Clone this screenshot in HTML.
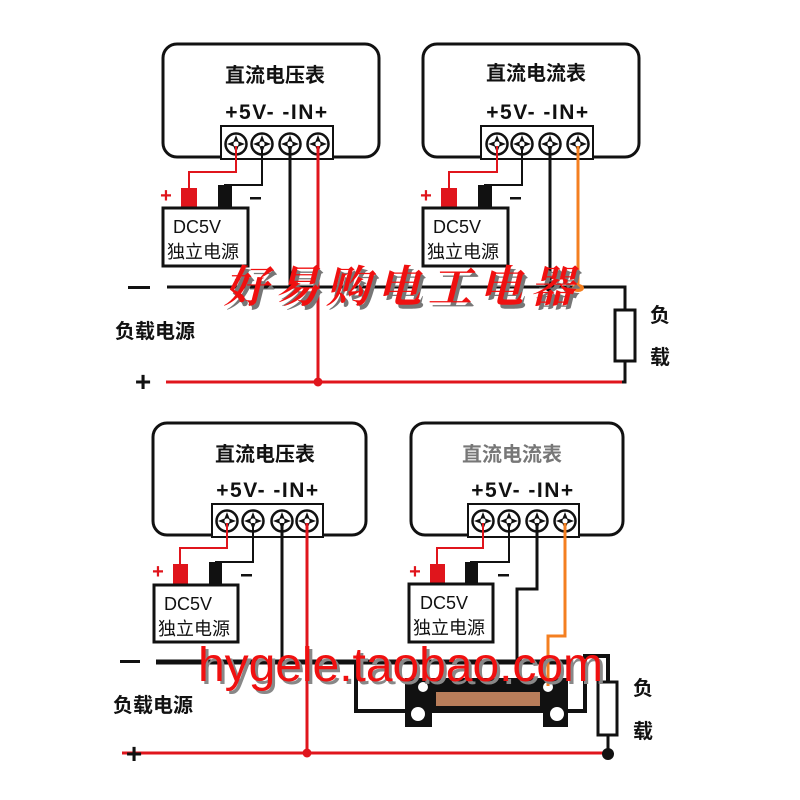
<!DOCTYPE html>
<html><head><meta charset="utf-8"><style>
html,body{margin:0;padding:0;background:#fff}
svg{display:block}
.t{font-family:"Liberation Sans","Noto Sans CJK SC",sans-serif;font-weight:bold;fill:#111}
.n{font-family:"Liberation Sans","Noto Sans CJK SC",sans-serif;fill:#111}
.lb{font-family:"Liberation Sans",sans-serif;font-weight:bold;fill:#111;font-size:21px;letter-spacing:1.5px}
</style></head><body>
<svg width="800" height="800" viewBox="0 0 800 800" xmlns="http://www.w3.org/2000/svg">
<defs>
<g id="sc">
<circle r="10.5" fill="#fff" stroke="#111" stroke-width="2.5"/>
<path d="M0,-9 L2.5,-2.5 L9,0 L2.5,2.5 L0,9 L-2.5,2.5 L-9,0 L-2.5,-2.5Z" fill="#111"/>
<circle r="2.6" fill="#fff"/>
</g>
</defs>

<!-- ============ TOP SECTION ============ -->
<rect x="163" y="44" width="216" height="113" rx="14" fill="#fff" stroke="#111" stroke-width="3"/>
<text class="t" x="275" y="82" font-size="20" text-anchor="middle">直流电压表</text>
<text class="lb" x="277" y="119" text-anchor="middle">+5V-  -IN+</text>
<rect x="221" y="126" width="112" height="33" fill="#fff" stroke="#111" stroke-width="2"/>
<use href="#sc" x="236" y="144"/><use href="#sc" x="262" y="144"/><use href="#sc" x="290" y="144"/><use href="#sc" x="318" y="144"/>
<polyline points="236,146 236,172 189,172 189,190" fill="none" stroke="#e0151c" stroke-width="2"/>
<polyline points="262,146 262,185 224,185" fill="none" stroke="#111" stroke-width="2"/>
<rect x="181" y="188" width="16" height="20" fill="#e0151c"/>
<rect x="218" y="185" width="14" height="23" fill="#111"/>
<text x="166" y="202" font-size="20" fill="#e0151c" font-family="Liberation Sans" font-weight="bold" text-anchor="middle">+</text>
<rect x="250" y="197" width="11" height="2.5" fill="#111"/>
<rect x="163" y="208" width="85" height="58" fill="#fff" stroke="#111" stroke-width="3"/>
<text class="n" x="173" y="233" font-size="18">DC5V</text>
<text class="n" x="167" y="258" font-size="18">独立电源</text>
<line x1="290" y1="146" x2="290" y2="287" stroke="#111" stroke-width="3"/>

<rect x="423" y="44" width="216" height="113" rx="14" fill="#fff" stroke="#111" stroke-width="3"/>
<text class="t" x="536" y="80" font-size="20" text-anchor="middle">直流电流表</text>
<text class="lb" x="538" y="119" text-anchor="middle">+5V-  -IN+</text>
<rect x="481" y="126" width="112" height="33" fill="#fff" stroke="#111" stroke-width="2"/>
<use href="#sc" x="497" y="144"/><use href="#sc" x="522" y="144"/><use href="#sc" x="550" y="144"/><use href="#sc" x="578" y="144"/>
<polyline points="497,146 497,172 449,172 449,190" fill="none" stroke="#e0151c" stroke-width="2"/>
<polyline points="522,146 522,185 484,185" fill="none" stroke="#111" stroke-width="2"/>
<rect x="441" y="188" width="16" height="20" fill="#e0151c"/>
<rect x="478" y="185" width="14" height="23" fill="#111"/>
<text x="426" y="202" font-size="20" fill="#e0151c" font-family="Liberation Sans" font-weight="bold" text-anchor="middle">+</text>
<rect x="510" y="197" width="11" height="2.5" fill="#111"/>
<rect x="423" y="208" width="85" height="58" fill="#fff" stroke="#111" stroke-width="3"/>
<text class="n" x="433" y="233" font-size="18">DC5V</text>
<text class="n" x="427" y="258" font-size="18">独立电源</text>
<line x1="550" y1="146" x2="550" y2="287" stroke="#111" stroke-width="3"/>

<polyline points="167,287 625,287 625,310" fill="none" stroke="#111" stroke-width="3"/>
<rect x="615" y="310" width="20" height="51" fill="#fff" stroke="#111" stroke-width="3"/>
<polyline points="625,361 625,382 166,382" fill="none" stroke="#111" stroke-width="3"/>
<line x1="166" y1="382" x2="622" y2="382" stroke="#e0151c" stroke-width="3"/>
<line x1="318" y1="146" x2="318" y2="382" stroke="#e0151c" stroke-width="3"/>
<circle cx="318" cy="382" r="4.5" fill="#e0151c"/>
<circle cx="550" cy="287" r="5" fill="#111"/>
<line x1="578" y1="146" x2="578" y2="287" stroke="#f47f20" stroke-width="3"/>
<ellipse cx="578" cy="288" rx="6" ry="4" fill="#f47f20"/>
<rect x="128" y="286" width="22" height="3" fill="#111"/>
<text class="t" x="115" y="338" font-size="20">负载电源</text>
<text class="t" x="143" y="391" font-size="28" text-anchor="middle">+</text>
<text class="t" x="660" y="322" font-size="20" text-anchor="middle">负</text>
<text class="t" x="660" y="364" font-size="20" text-anchor="middle">载</text>
<text x="227" y="306" font-size="44" font-weight="bold" font-style="italic" fill="#777" font-family="Noto Serif CJK SC,serif" letter-spacing="7">好易购电工电器</text>
<text x="224" y="302" font-size="44" font-weight="bold" font-style="italic" fill="#f01010" font-family="Noto Serif CJK SC,serif" letter-spacing="7">好易购电工电器</text>

<!-- ============ BOTTOM SECTION ============ -->
<rect x="153" y="423" width="213" height="112" rx="14" fill="#fff" stroke="#111" stroke-width="3"/>
<text class="t" x="265" y="461" font-size="20" text-anchor="middle">直流电压表</text>
<text class="lb" x="268" y="497" text-anchor="middle">+5V-  -IN+</text>
<rect x="212" y="504" width="111" height="33" fill="#fff" stroke="#111" stroke-width="2"/>
<use href="#sc" x="227" y="521"/><use href="#sc" x="253" y="521"/><use href="#sc" x="282" y="521"/><use href="#sc" x="307" y="521"/>
<polyline points="227,523 227,548 180,548 180,566" fill="none" stroke="#e0151c" stroke-width="2"/>
<polyline points="253,523 253,562 215,562" fill="none" stroke="#111" stroke-width="2"/>
<rect x="173" y="564" width="15" height="21" fill="#e0151c"/>
<rect x="209" y="562" width="13" height="23" fill="#111"/>
<text x="158" y="578" font-size="20" fill="#e0151c" font-family="Liberation Sans" font-weight="bold" text-anchor="middle">+</text>
<rect x="241" y="574" width="11" height="2.5" fill="#111"/>
<rect x="154" y="585" width="84" height="57" fill="#fff" stroke="#111" stroke-width="3"/>
<text class="n" x="164" y="610" font-size="18">DC5V</text>
<text class="n" x="158" y="635" font-size="18">独立电源</text>
<line x1="282" y1="523" x2="282" y2="662" stroke="#111" stroke-width="3"/>

<rect x="411" y="423" width="212" height="112" rx="14" fill="#fff" stroke="#111" stroke-width="3"/>
<text x="512" y="461" font-size="20" text-anchor="middle" font-weight="bold" fill="#777" font-family="Liberation Sans,Noto Sans CJK SC,sans-serif">直流电流表</text>
<text class="lb" x="523" y="497" text-anchor="middle">+5V-  -IN+</text>
<rect x="468" y="504" width="111" height="33" fill="#fff" stroke="#111" stroke-width="2"/>
<use href="#sc" x="483" y="521"/><use href="#sc" x="509" y="521"/><use href="#sc" x="537" y="521"/><use href="#sc" x="565" y="521"/>
<polyline points="483,523 483,548 437,548 437,566" fill="none" stroke="#e0151c" stroke-width="2"/>
<polyline points="509,523 509,562 470,562" fill="none" stroke="#111" stroke-width="2"/>
<rect x="430" y="564" width="15" height="21" fill="#e0151c"/>
<rect x="465" y="562" width="13" height="23" fill="#111"/>
<text x="415" y="578" font-size="20" fill="#e0151c" font-family="Liberation Sans" font-weight="bold" text-anchor="middle">+</text>
<rect x="498" y="574" width="11" height="2.5" fill="#111"/>
<rect x="409" y="584" width="84" height="58" fill="#fff" stroke="#111" stroke-width="3"/>
<text class="n" x="420" y="609" font-size="18">DC5V</text>
<text class="n" x="413" y="634" font-size="18">独立电源</text>
<polyline points="537,523 537,589 517,589 517,663" fill="none" stroke="#111" stroke-width="3"/>

<line x1="156" y1="662" x2="568" y2="662" stroke="#111" stroke-width="5"/>
<polyline points="356,662 356,711 406,711" fill="none" stroke="#111" stroke-width="4"/>
<rect x="405" y="678" width="163" height="49" fill="#111"/>
<rect x="436" y="692" width="104" height="14" fill="#b87d5a"/>
<rect x="432" y="713" width="111" height="14" fill="#fff"/>
<circle cx="423" cy="687" r="5" fill="#fff"/>
<circle cx="548" cy="687" r="5" fill="#fff"/>
<circle cx="418" cy="714" r="7" fill="#fff"/>
<circle cx="557" cy="714" r="7" fill="#fff"/>
<polyline points="566,711 585,711 585,656 608,656 608,682" fill="none" stroke="#111" stroke-width="4"/>
<rect x="598" y="682" width="19" height="53" fill="#fff" stroke="#111" stroke-width="3"/>
<line x1="608" y1="735" x2="608" y2="754" stroke="#111" stroke-width="3"/>
<line x1="122" y1="753" x2="606" y2="753" stroke="#e0151c" stroke-width="3"/>
<line x1="307" y1="523" x2="307" y2="753" stroke="#e0151c" stroke-width="3"/>
<circle cx="307" cy="753" r="4.5" fill="#e0151c"/>
<circle cx="608" cy="754" r="6" fill="#111"/>
<polyline points="565,523 565,636 548,636 548,686" fill="none" stroke="#f47f20" stroke-width="3"/>
<rect x="120" y="660" width="20" height="3" fill="#111"/>
<text class="t" x="113" y="712" font-size="20">负载电源</text>
<text class="t" x="134" y="763" font-size="28" text-anchor="middle">+</text>
<text class="t" x="643" y="695" font-size="20" text-anchor="middle">负</text>
<text class="t" x="643" y="738" font-size="20" text-anchor="middle">载</text>
<text x="201" y="684" font-size="48" fill="#888" font-family="Liberation Sans,sans-serif" textLength="405">hygele.taobao.com</text>
<text x="198" y="681" font-size="48" fill="#f01010" font-family="Liberation Sans,sans-serif" textLength="405">hygele.taobao.com</text>
</svg>
</body></html>
